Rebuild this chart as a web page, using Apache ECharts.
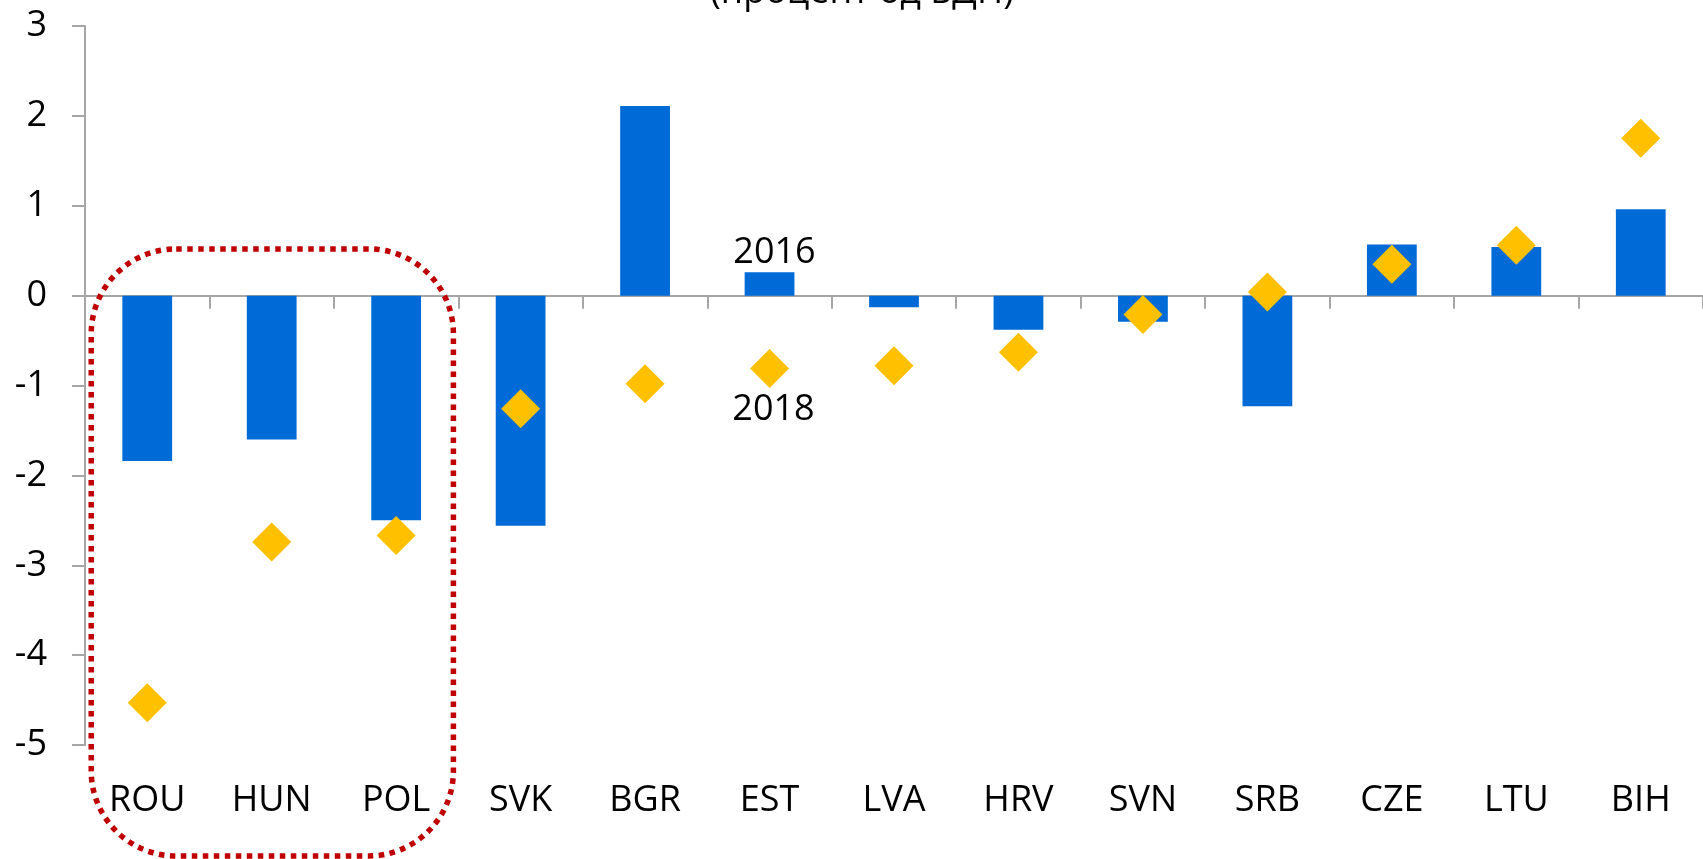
<!DOCTYPE html>
<html>
<head>
<meta charset="utf-8">
<script src="https://cdn.jsdelivr.net/npm/echarts@6/dist/echarts.min.js"></script>
<style>
html,body{margin:0;padding:0;background:#fff;}
#chart{width:1703px;height:859px;}
</style>
</head>
<body>
<div id="chart"></div>
<script>
// ---- data ----
const categories = ['ROU','HUN','POL','SVK','BGR','EST','LVA','HRV','SVN','SRB','CZE','LTU','BIH'];
const values2016 = [-1.84,-1.60,-2.50,-2.56,2.11,0.26,-0.13,-0.38,-0.29,-1.23,0.57,0.54,0.96];
const values2018 = [-4.53,-2.74,-2.67,-1.26,-0.98,-0.81,-0.78,-0.63,-0.21,0.04,0.35,0.56,1.75];
const seriesNames = ['2016','2018'];
const labelledCategory = 'EST';
const yTicks = { min: -5, max: 3, interval: 1 };
const titleText = '(процент од БДП)';
const highlightedCategories = ['ROU','POL']; // first and last of the circled group
const highlightTopValue = 0.52;

const FONT = '"Open Sans", "Noto Sans", sans-serif';
const AXIS_GRAY = '#A6A6A6';
const labelIdx = categories.indexOf(labelledCategory);

const barData = values2016.map((v, i) => i === labelIdx
  ? { value: v, label: { show: true, position: 'top', distance: 2, offset: [5, 0], formatter: seriesNames[0],
      fontSize: 36, fontFamily: FONT, color: '#000' } }
  : v);
const dotData = values2018.map((v, i) => i === labelIdx
  ? { value: v, label: { show: true, position: 'bottom', distance: 4, offset: [4, 0], formatter: seriesNames[1],
      fontSize: 36, fontFamily: FONT, color: '#000' } }
  : v);

const chart = echarts.init(document.getElementById('chart'), null, { renderer: 'canvas' });
const option = {
  animation: false,
  backgroundColor: '#ffffff',
  textStyle: { fontFamily: FONT },
  grid: { left: 85, right: 0, top: 26, bottom: 114, containLabel: false, outerBoundsMode: 'none' },
  xAxis: [
    {
      type: 'category', data: categories, position: 'bottom',
      axisLine: { show: false, onZero: false },
      axisTick: { show: false },
      axisLabel: { interval: 0, fontSize: 36, fontFamily: FONT, color: '#000', margin: 38 },
      splitLine: { show: false }
    },
    {
      type: 'category', data: categories, position: 'bottom',
      axisLine: { show: true, onZero: true, onZeroAxisIndex: 0, lineStyle: { color: AXIS_GRAY, width: 2 } },
      axisTick: { show: true, interval: 0, length: 13, lineStyle: { color: AXIS_GRAY, width: 2 } },
      axisLabel: { show: false },
      splitLine: { show: false }
    }
  ],
  yAxis: {
    type: 'value', min: yTicks.min, max: yTicks.max, interval: yTicks.interval,
    axisLine: { show: true, onZero: false, lineStyle: { color: AXIS_GRAY, width: 2 } },
    axisTick: { show: true, length: 13, lineStyle: { color: AXIS_GRAY, width: 2 } },
    axisLabel: { fontSize: 36, fontFamily: FONT, color: '#000', margin: 38 },
    splitLine: { show: false }
  },
  series: [
    {
      name: seriesNames[0], type: 'bar', xAxisIndex: 0, data: barData,
      barWidth: '40%', itemStyle: { color: '#006AD6' }, z: 2
    },
    {
      name: seriesNames[1], type: 'scatter', xAxisIndex: 0, data: dotData,
      symbol: 'diamond', symbolSize: 39, itemStyle: { color: '#FFC000', opacity: 1 }, z: 3
    }
  ]
};
chart.setOption(option);

// decorations positioned through the chart's own scales
const i0 = categories.indexOf(highlightedCategories[0]);
const i1 = categories.indexOf(highlightedCategories[1]);
const p0 = chart.convertToPixel({ xAxisIndex: 0, yAxisIndex: 0 }, [i0, highlightTopValue]);
const p1 = chart.convertToPixel({ xAxisIndex: 0, yAxisIndex: 0 }, [i1, highlightTopValue]);
const catW = chart.convertToPixel({ xAxisIndex: 0 }, 1) - chart.convertToPixel({ xAxisIndex: 0 }, 0);
const rx0 = p0[0] - catW * 0.45;
const rx1 = p1[0] + catW * 0.46;
const ry0 = p0[1];
const ry1 = 856;
chart.setOption({
  graphic: [
    {
      type: 'rect', silent: true, z: 10,
      shape: { x: rx0, y: ry0, width: rx1 - rx0, height: ry1 - ry0, r: 85 },
      style: { fill: 'none', stroke: '#C00000', lineWidth: 5.5, lineDash: [5.5, 5.5], lineCap: 'butt' }
    },
    {
      type: 'text', silent: true, z: 10,
      x: 862, y: 11,
      style: { text: titleText, fontSize: 36, fontFamily: FONT, fill: '#000',
        align: 'center', verticalAlign: 'bottom' }
    }
  ]
});
</script>
</body>
</html>
